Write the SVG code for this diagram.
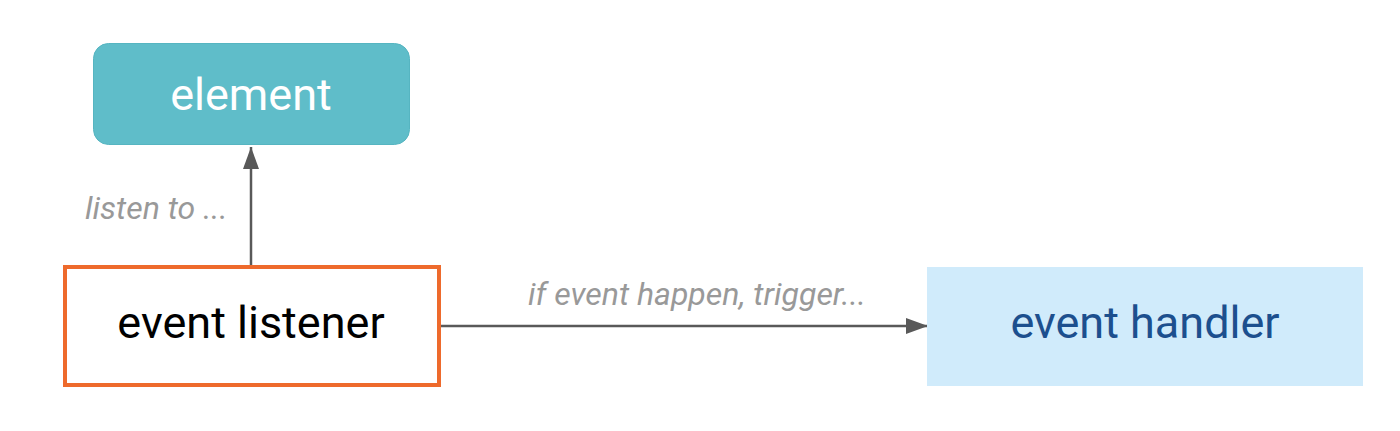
<svg xmlns="http://www.w3.org/2000/svg" width="1400" height="431" viewBox="0 0 1400 431">
<style>
.lbl{font-family:Roboto,"Liberation Sans",sans-serif;font-style:italic;font-size:32px;fill:#999999}
.txt{font-family:Roboto,"Liberation Sans",sans-serif;font-size:45px;text-anchor:middle}
.edge{stroke:#595959;stroke-width:2.5;fill:none}
</style>
<defs>
<marker id="arr" viewBox="0 0 22 16" refX="22" refY="8" markerWidth="22" markerHeight="16" markerUnits="userSpaceOnUse" orient="auto">
<path d="M0,0 L22,8 L0,16 Z" fill="#595959"/>
</marker>
</defs>
<rect width="1400" height="431" fill="#ffffff"/>
<g id="connectors">
<line class="edge" x1="251" y1="265" x2="251" y2="147" marker-end="url(#arr)"/>
<line class="edge" x1="441" y1="326" x2="928" y2="326" marker-end="url(#arr)"/>
<text class="lbl" x="85" y="219">listen to ...</text>
<text class="lbl" x="528" y="305">if event happen, trigger...</text>
</g>
<g id="element">
<rect x="93.5" y="43.5" width="316" height="101" rx="15" fill="#5FBDC9" stroke="#56b5c1" stroke-width="1"/>
<text class="txt" x="251" y="110" fill="#ffffff">element</text>
</g>
<g id="event-listener">
<rect x="65" y="267" width="374" height="118" fill="#ffffff" stroke="#EE6A2C" stroke-width="4"/>
<text class="txt" x="251" y="338" fill="#000000">event listener</text>
</g>
<g id="event-handler">
<rect x="927" y="267" width="436" height="119" fill="#D0EBFB"/>
<text class="txt" x="1145" y="338" fill="#1C4F8E">event handler</text>
</g>
</svg>
